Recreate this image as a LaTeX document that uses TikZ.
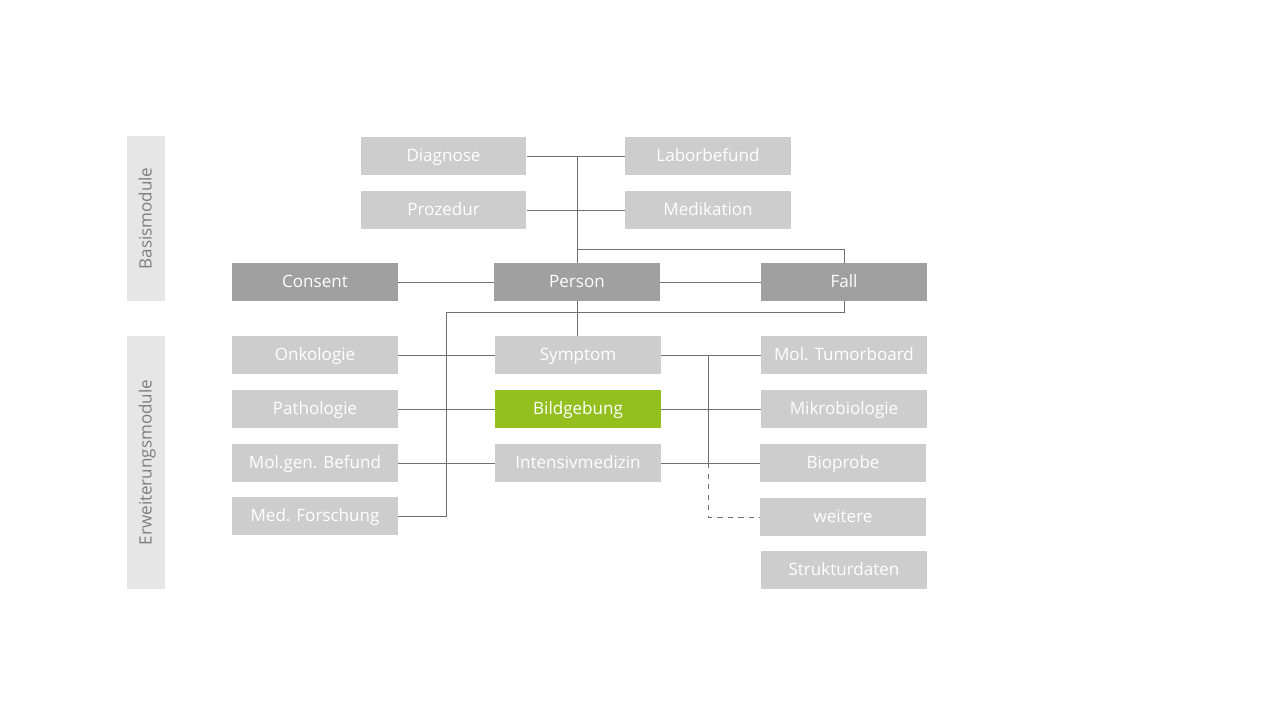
\documentclass[tikz,border=0pt]{standalone}
\usepackage{fontspec}
\setmainfont{Open Sans}
\usepackage{tikz}

\definecolor{boxlight}{HTML}{CDCDCD}
\definecolor{boxdark}{HTML}{A0A0A0}
\definecolor{boxgreen}{HTML}{93C01F}
\definecolor{sidebar}{HTML}{E6E6E6}
\definecolor{linegray}{HTML}{707070}

\begin{document}
\begin{tikzpicture}[x=0.02cm,y=-0.02cm,
  mod/.style = {fill=boxlight, text=white, minimum width=3.32cm, minimum height=0.76cm, inner sep=0pt, text height=1.5ex, text depth=0.3ex, font=\fontsize{9.7}{11}\selectfont},
  base/.style = {mod, fill=boxdark},
  hot/.style = {mod, fill=boxgreen},
  side/.style = {fill=sidebar, text=linegray!90, rotate=90, minimum height=0.76cm, inner sep=0pt, text height=1.5ex, text depth=0.3ex, font=\fontsize{9.7}{11}\selectfont},
  link/.style = {draw=linegray, line width=0.45pt}]
\useasboundingbox (0,0) rectangle (1280,720);
\node[side, minimum width=3.30cm] (bm) at (146,218.5) {Basismodule};
\node[side, minimum width=5.06cm] (em) at (146,462.5) {Erweiterungsmodule};
\node[mod] (diag) at (443.5,156) {Diagnose};
\node[mod] (labor) at (708,156) {Laborbefund};
\node[mod] (proz) at (443.5,210) {Prozedur};
\node[mod] (medi) at (708,210) {Medikation};
\node[base] (consent) at (315,282) {Consent};
\node[base] (person) at (577,282) {Person};
\node[base] (fall) at (844,282) {Fall};
\node[mod] (onko) at (315,355) {Onkologie};
\node[mod] (symptom) at (578,355) {Symptom};
\node[mod] (tumor) at (844,355) {Mol. Tumorboard};
\node[mod] (patho) at (315,409) {Pathologie};
\node[hot] (bild) at (578,409) {Bildgebung};
\node[mod] (mikro) at (844,409) {Mikrobiologie};
\node[mod] (molgen) at (315,463) {Mol.gen. Befund};
\node[mod] (intens) at (578,463) {Intensivmedizin};
\node[mod] (bioprobe) at (843,463) {Bioprobe};
\node[mod] (forsch) at (315,516) {Med. Forschung};
\node[mod] (weitere) at (843,517) {weitere};
\node[mod] (struktur) at (844,570) {Strukturdaten};
\coordinate (top) at (577,249);
\coordinate (bus) at (446,312);
\coordinate (r1) at (708,355);
\coordinate (r2) at (708,463);
\draw[link] (diag) -- (labor);
\draw[link] (proz) -- (medi);
\draw[link] (diag -| person) -- (person.north);
\draw[link] (top) -| (fall.north);
\draw[link] (consent) -- (person);
\draw[link] (person) -- (fall);
\draw[link] (person.south) -- (person.south |- symptom.north);
\draw[link] (forsch) -| (bus) -| (fall.south);
\draw[link] (onko) -- (symptom);
\draw[link] (patho) -- (bild);
\draw[link] (molgen) -- (intens);
\draw[link] (symptom) -- (tumor);
\draw[link] (bild) -- (mikro);
\draw[link] (intens) -- (bioprobe);
\draw[link] (r1) -- (r2);
\draw[link, dashed] (r2) |- (weitere);
\end{tikzpicture}
\end{document}
